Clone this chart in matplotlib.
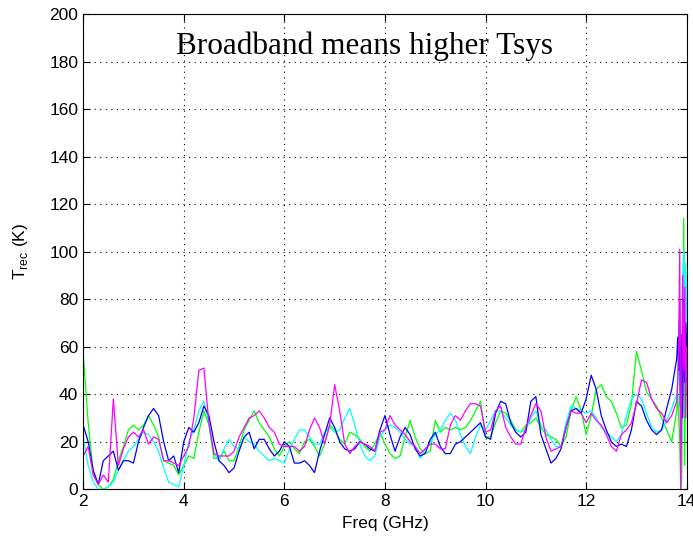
import numpy as np
import matplotlib
matplotlib.use("Agg")
import matplotlib.pyplot as plt

# Frequency grid (GHz): 0.1 GHz steps, then finer samples at the band edge
freq_main = np.round(np.arange(2.0, 13.81, 0.1), 2)
freq_edge = [13.82, 13.84, 13.86, 13.88, 13.90, 13.92, 13.94, 13.96, 13.98, 14.00]

green_main = [57, 28, 7, 2, 0, 1, 4, 12, 18, 25,
              27, 25, 27, 31, 27, 22, 12, 11, 10, 6,
              10, 14, 13, 24, 33, 27, 13, 13, 16, 12,
              12, 18, 25, 29, 33, 28, 25, 22, 17, 14,
              18, 20, 17, 15, 20, 21, 18, 14, 19, 27,
              25, 21, 19, 24, 23, 21, 18, 16, 19, 24,
              19, 15, 13, 14, 22, 29, 22, 17, 15, 16,
              29, 24, 26, 25, 26, 25, 26, 29, 33, 37,
              22, 22, 28, 33, 32, 29, 25, 24, 27, 28,
              30, 26, 23, 22, 21, 18, 22, 33, 39, 33,
              23, 31, 42, 44, 39, 37, 32, 26, 27, 36,
              58, 50, 41, 38, 35, 30, 25, 20, 33]
green_edge = [40, 30, 20, 0, 5, 60, 114, 10, 70, 45]

magenta_main = [14, 18, 6, 2, 6, 3, 38, 10, 17, 22,
                24, 22, 25, 19, 22, 21, 12, 12, 11, 10,
                14, 18, 30, 50, 51, 28, 15, 14, 14, 14,
                16, 22, 26, 30, 31, 33, 30, 26, 24, 19,
                18, 18, 18, 16, 18, 25, 30, 26, 19, 27,
                44, 33, 19, 15, 18, 20, 19, 18, 16, 24,
                25, 31, 27, 25, 23, 20, 18, 15, 17, 19,
                19, 17, 17, 27, 31, 29, 33, 36, 36, 35,
                24, 25, 33, 35, 26, 22, 19, 19, 26, 31,
                36, 33, 22, 16, 17, 18, 26, 33, 32, 32,
                28, 32, 29, 27, 23, 18, 16, 23, 25, 28,
                36, 46, 45, 38, 34, 32, 28, 31, 37]
magenta_edge = [45, 60, 101, 0, 40, 90, 50, 85, 30, 60]

blue_main = [27, 20, 8, 2, 12, 14, 16, 8, 12, 12,
             11, 20, 26, 31, 34, 31, 20, 12, 14, 7,
             20, 26, 24, 28, 35, 31, 20, 12, 10, 7,
             9, 16, 22, 24, 17, 21, 21, 17, 14, 16,
             20, 18, 11, 11, 12, 10, 7, 16, 23, 30,
             26, 20, 17, 16, 17, 20, 19, 17, 16, 25,
             31, 23, 16, 22, 26, 23, 17, 14, 15, 21,
             24, 18, 15, 15, 19, 20, 22, 24, 26, 28,
             22, 21, 32, 37, 36, 28, 24, 22, 24, 37,
             39, 23, 17, 11, 13, 17, 26, 33, 34, 32,
             38, 48, 42, 31, 25, 20, 18, 19, 18, 25,
             37, 35, 29, 25, 23, 25, 34, 42, 55]
blue_edge = [64, 50, 80, 20, 65, 30, 80, 45, 70, 60]

cyan_main = [22, 10, 3, 0, 0, 1, 3, 8, 12, 16,
             18, 21, 24, 23, 20, 16, 9, 3, 2, 1,
             10, 20, 25, 33, 37, 28, 15, 12, 17, 21,
             18, 17, 22, 20, 19, 16, 14, 12, 13, 12,
             11, 17, 21, 25, 25, 22, 19, 19, 24, 26,
             24, 25, 30, 34, 27, 19, 14, 12, 14, 22,
             25, 27, 26, 24, 21, 19, 18, 13, 17, 20,
             23, 25, 29, 32, 29, 23, 18, 15, 22, 27,
             25, 29, 33, 33, 30, 27, 25, 24, 25, 30,
             33, 27, 25, 21, 18, 18, 28, 35, 34, 33,
             32, 33, 30, 26, 24, 22, 20, 23, 31, 38,
             40, 38, 32, 26, 24, 25, 29, 34, 40]
cyan_edge = [45, 70, 35, 60, 20, 90, 100, 55, 95, 70]

series = [
    ("green", green_main, green_edge, (0, 1, 0)),
    ("cyan", cyan_main, cyan_edge, (0, 1, 1)),
    ("blue", blue_main, blue_edge, (0, 0, 1)),
    ("magenta", magenta_main, magenta_edge, (1, 0, 1)),
]

x_ticks = [2, 4, 6, 8, 10, 12, 14]
y_ticks = [0, 20, 40, 60, 80, 100, 120, 140, 160, 180, 200]

plt.rcParams['font.family'] = ['Liberation Sans', 'DejaVu Sans']
fig = plt.figure(figsize=(6.93, 5.40), dpi=100)
ax = fig.add_axes([0.12, 0.094, 0.871, 0.880])

freq = list(freq_main) + freq_edge
for name, main, edge, col in series:
    ax.plot(freq, list(main) + edge, color=col, lw=0.9)

ax.set_xlim(2, 14)
ax.set_ylim(0, 200)
ax.set_xticks(x_ticks)
ax.set_yticks(y_ticks)
ax.grid(True, color='black', linestyle=(0, (1, 4)), linewidth=0.8)
ax.tick_params(direction='in', top=True, right=True, labelsize=12.5, length=5, width=0.8)
for s in ax.spines.values():
    s.set_linewidth(0.8)

ax.set_xlabel('Freq (GHz)', fontsize=12.5, labelpad=5)
ax.set_ylabel(r'T$_{\mathregular{rec}}$ (K)', fontsize=12.5, labelpad=14)

ax.text(7.6, 186.5, 'Broadband means higher Tsys', fontsize=22.5,
        family=['Liberation Serif', 'DejaVu Serif'], ha='center', va='center')

fig.savefig('out.png', dpi=100)
